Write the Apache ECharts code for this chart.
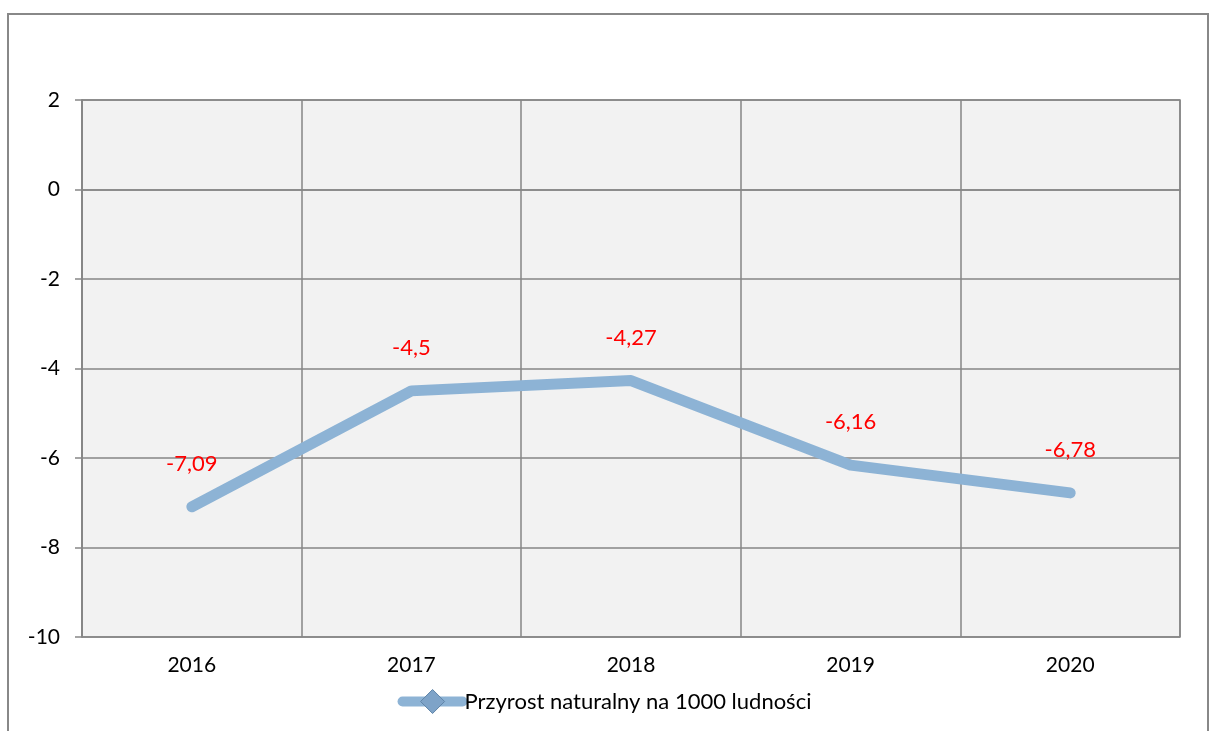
<!DOCTYPE html>
<html>
<head>
<meta charset="utf-8">
<script src="https://cdn.jsdelivr.net/npm/echarts@6/dist/echarts.min.js"></script>
<style>
  html, body { margin: 0; padding: 0; background: #fff; }
  #main { width: 1209px; height: 731px; }
</style>
</head>
<body>
<div id="main"></div>
<script>
const years = ['2016', '2017', '2018', '2019', '2020'];
const przyrost = [-7.09, -4.5, -4.27, -6.16, -6.78];
const seriesName = 'Przyrost naturalny na 1000 ludności';

const font = 'Lato, "Open Sans", sans-serif';
const myChart = echarts.init(document.getElementById('main'));

const option = {
  backgroundColor: '#fff',
  textStyle: { fontFamily: font },
  graphic: [{
    type: 'rect',
    shape: { x: 8, y: 14, width: 1200, height: 740 },
    style: { fill: 'none', stroke: '#888', lineWidth: 2 },
    silent: true
  }],
  grid: {
    left: 82, right: 29, top: 100, bottom: 94,
    show: true,
    backgroundColor: '#f2f2f2',
    borderColor: '#868686',
    borderWidth: 1.5
  },
  legend: {
    bottom: 12,
    left: 'center',
    itemWidth: 60,
    itemHeight: 30,
    itemGap: 0,
    lineStyle: { width: 10, cap: 'round' },
    itemStyle: { color: '#7ea3c8', borderColor: '#5f84a8', borderWidth: 1 },
    textStyle: { fontFamily: font, fontSize: 22, color: '#000', padding: [0, 0, 0, -3] },
    data: [seriesName]
  },
  xAxis: {
    type: 'category',
    data: years,
    boundaryGap: true,
    axisLine: { lineStyle: { color: '#868686', width: 1.5 } },
    axisTick: { show: false },
    splitLine: { show: true, lineStyle: { color: '#868686', width: 1.5 } },
    axisLabel: { color: '#000', fontSize: 21, margin: 18, fontFamily: font }
  },
  yAxis: {
    type: 'value',
    min: -10, max: 2, interval: 2,
    axisLine: { show: true, lineStyle: { color: '#868686', width: 1.5 } },
    axisTick: { show: true, length: 7, lineStyle: { color: '#868686', width: 1.5 } },
    splitLine: { show: true, lineStyle: { color: '#868686', width: 1.5 } },
    axisLabel: { color: '#000', fontSize: 21, margin: 22, fontFamily: font }
  },
  series: [{
    name: seriesName,
    type: 'line',
    data: przyrost,
    symbol: 'diamond',
    symbolSize: 0.1,
    showSymbol: true,
    itemStyle: { color: '#8db3d5' },
    lineStyle: { color: '#8db3d5', width: 11, cap: 'round', join: 'round' },
    label: {
      show: true,
      position: 'top',
      distance: 32,
      color: '#ff0000',
      fontSize: 22,
      fontFamily: font,
      formatter: p => String(p.value).replace('.', ',')
    }
  }]
};

myChart.setOption(option);
</script>
</body>
</html>
